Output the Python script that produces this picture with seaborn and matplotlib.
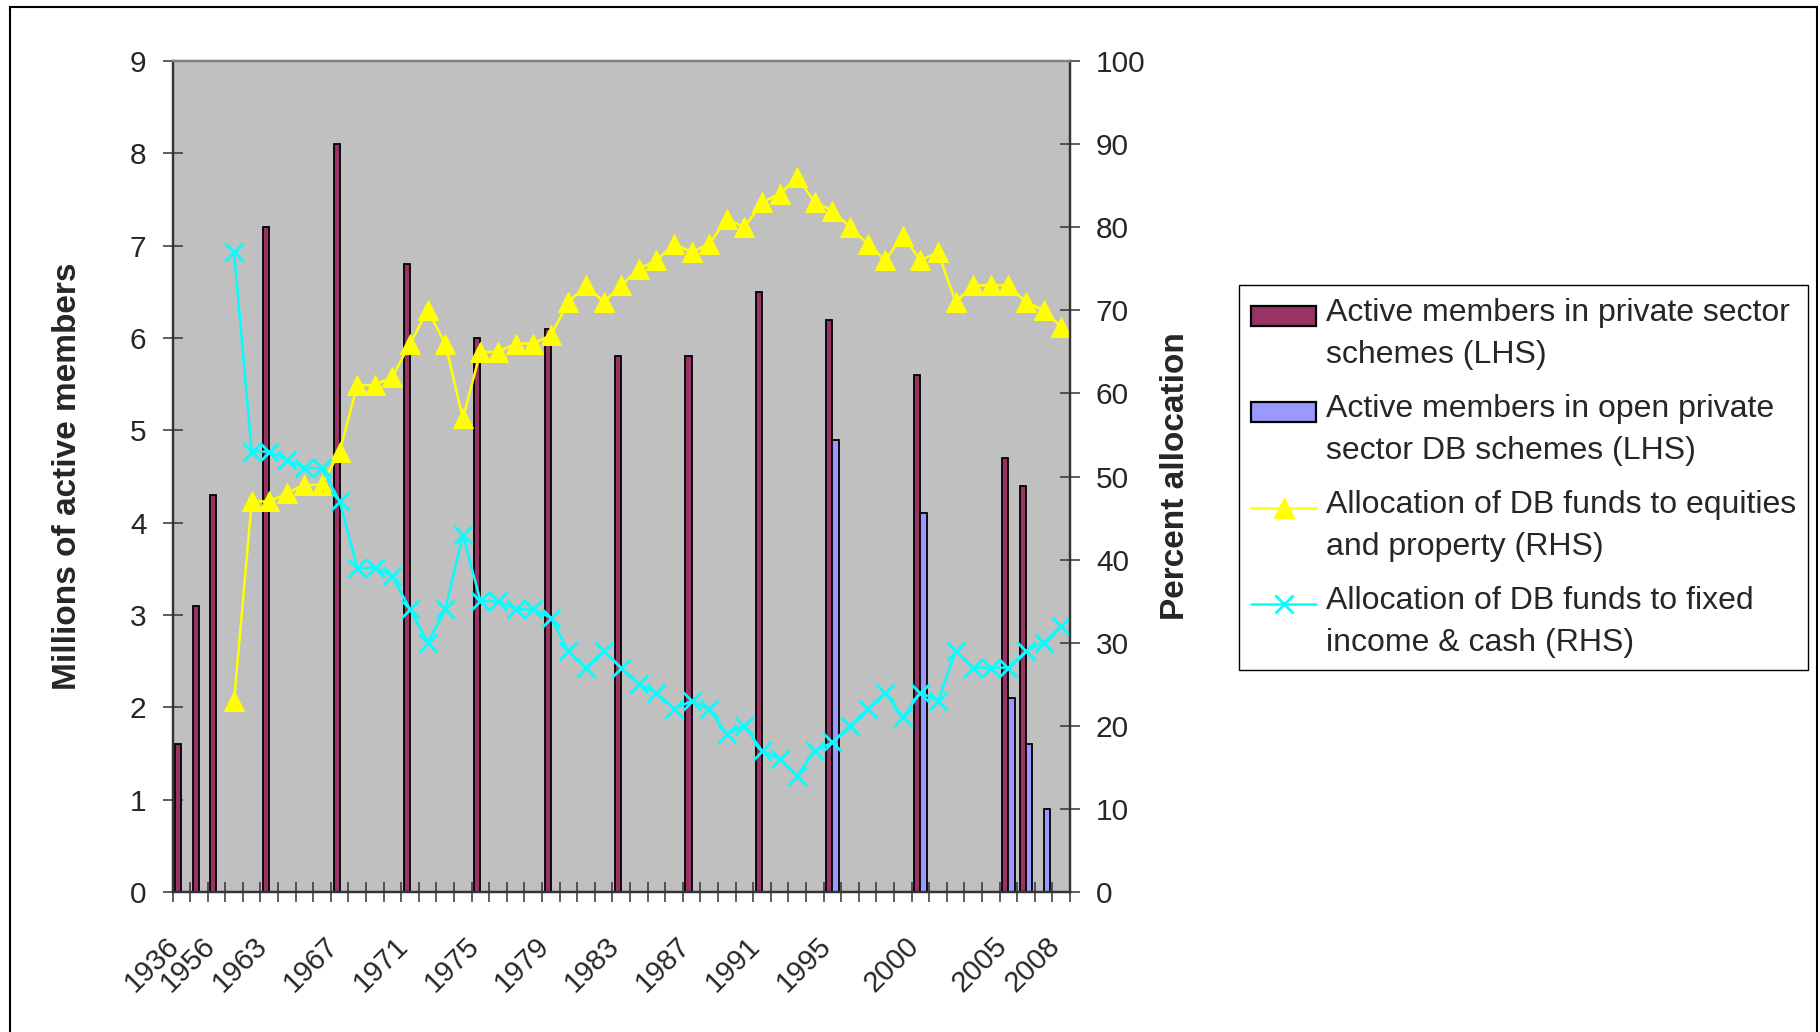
import numpy as np
import pandas as pd
import matplotlib
matplotlib.use("Agg")
import matplotlib.pyplot as plt
import seaborn as sns
from matplotlib.patches import Rectangle
from matplotlib.lines import Line2D
from matplotlib.legend_handler import HandlerPatch, HandlerLine2D

# Category axis: early survey years, then one slot per year 1961-2008
categories = [1936, 1953, 1956] + list(range(1961, 2009))
axis_labels = [1936, 1956, 1963, 1967, 1971, 1975, 1979, 1983, 1987,
               1991, 1995, 2000, 2005, 2008]

# Active members, millions (left axis)
private_years = [1936, 1953, 1956, 1963, 1967, 1971, 1975, 1979, 1983,
                 1987, 1991, 1995, 2000, 2005, 2006]
private_members = [1.6, 3.1, 4.3, 7.2, 8.1, 6.8, 6.0, 6.1, 5.8,
                   5.8, 6.5, 6.2, 5.6, 4.7, 4.4]
open_db_years = [1995, 2000, 2005, 2006, 2007]
open_db_members = [4.9, 4.1, 2.1, 1.6, 0.9]

# DB fund allocation, percent (right axis)
alloc_years = list(range(1961, 2009))
equities_property = [23, 47, 47, 48, 49, 49, 53, 61, 61, 62,
                     66, 70, 66, 57, 65, 65, 66, 66, 67, 71,
                     73, 71, 73, 75, 76, 78, 77, 78, 81, 80,
                     83, 84, 86, 83, 82, 80, 78, 76, 79, 76,
                     77, 71, 73, 73, 73, 71, 70, 68]
fixed_income_cash = [77, 53, 53, 52, 51, 51, 47, 39, 39, 38,
                     34, 30, 34, 43, 35, 35, 34, 34, 33, 29,
                     27, 29, 27, 25, 24, 22, 23, 22, 19, 20,
                     17, 16, 14, 17, 18, 20, 22, 24, 21, 24,
                     23, 29, 27, 27, 27, 29, 30, 32]

series_names = [
    "Active members in private sector\nschemes (LHS)",
    "Active members in open private\nsector DB schemes (LHS)",
    "Allocation of DB funds to equities\nand property (RHS)",
    "Allocation of DB funds to fixed\nincome & cash (RHS)",
]
bar_colors = ["#993366", "#9999FF"]
line_colors = ["#FFFF00", "#00FFFF"]

sns.set_style("ticks")
plt.rcParams["font.family"] = ["Liberation Sans", "DejaVu Sans"]

W, H = 1820, 1032
fig = plt.figure(figsize=(W / 100, H / 100), dpi=100)
left, right, top, bottom = 172.5, 1070, 61, 892
ax = fig.add_axes([left / W, 1 - bottom / H, (right - left) / W, (bottom - top) / H])
ax.set_facecolor("#C0C0C0")

bars = pd.DataFrame({
    "year": [str(y) for y in private_years + open_db_years],
    "members": private_members + open_db_members,
    "series": [series_names[0]] * len(private_years) + [series_names[1]] * len(open_db_years),
})
order = [str(c) for c in categories]
sns.barplot(data=bars, x="year", y="members", hue="series", order=order,
            hue_order=series_names[:2], palette=bar_colors, saturation=1,
            width=0.7, dodge=True, edgecolor="black", linewidth=1.3,
            errorbar=None, legend=False, ax=ax, zorder=2)

ax2 = ax.twinx()
pos = [categories.index(y) for y in alloc_years]
sns.lineplot(x=pos, y=equities_property, ax=ax2, color=line_colors[0],
             marker="^", markersize=14, markeredgecolor=line_colors[0],
             linewidth=1.8, legend=False, sort=False)
sns.lineplot(x=pos, y=fixed_income_cash, ax=ax2, color=line_colors[1],
             marker="x", markersize=13, markeredgewidth=2.0,
             markeredgecolor=line_colors[1], linewidth=1.8, legend=False, sort=False)

ax.set_xlim(-0.5, len(categories) - 0.5)
ax.set_ylim(0, 9)
ax2.set_ylim(0, 100)
ax.set_yticks(range(0, 10))
ax2.set_yticks(range(0, 101, 10))

# Tick marks sit between categories; year labels hang below their bars
ax.set_xticks([categories.index(y) - 0.34 for y in axis_labels],
              [str(y) for y in axis_labels])
ax.set_xticks(np.arange(-0.5, len(categories), 1.0), minor=True)
ax.tick_params(axis="x", which="major", length=0, pad=36, labelsize=21)
ax.tick_params(axis="x", which="minor", direction="inout", length=14.4,
               width=1.1, color="#333333")
for lbl in ax.get_xticklabels():
    lbl.set_rotation(45)
    lbl.set_rotation_mode("anchor")
    lbl.set_ha("right")
    lbl.set_va("center")

for a in (ax, ax2):
    a.tick_params(axis="y", direction="inout", length=14.4, width=1.1,
                  color="#333333", pad=11.5, labelsize=21.5)
    for side in ("left", "right", "bottom"):
        a.spines[side].set_visible(True)
        a.spines[side].set_color("#333333")
        a.spines[side].set_linewidth(1.6)
    a.spines["top"].set_visible(True)
    a.spines["top"].set_color("#808080")
    a.spines["top"].set_linewidth(1.6)
    a.grid(False)

ax.set_xlabel("")
ax.set_ylabel("Millions of active members", fontsize=24, fontweight="bold")
ax.yaxis.set_label_coords(-0.0997, 0.5)
ax2.set_ylabel("Percent allocation", fontsize=24, fontweight="bold")
ax2.yaxis.set_label_coords(1.1003, 0.5)


class RaisedPatch(HandlerPatch):
    def __init__(self, lift, **kw):
        super().__init__(**kw)
        self.lift = lift

    def create_artists(self, legend, orig_handle, xdescent, ydescent,
                       width, height, fontsize, trans):
        arts = super().create_artists(legend, orig_handle, xdescent, ydescent,
                                      width, height, fontsize, trans)
        for a in arts:
            a.set_y(a.get_y() + self.lift * fontsize)
        return arts


class RaisedLine(HandlerLine2D):
    def __init__(self, lift, **kw):
        super().__init__(**kw)
        self.lift = lift

    def create_artists(self, legend, orig_handle, xdescent, ydescent,
                       width, height, fontsize, trans):
        arts = super().create_artists(legend, orig_handle, xdescent, ydescent,
                                      width, height, fontsize, trans)
        for a in arts:
            a.set_ydata(np.asarray(a.get_ydata()) + self.lift * fontsize)
        return arts


lift = 0.58
h_private = Rectangle((0, 0), 1, 1, facecolor=bar_colors[0], edgecolor="black", linewidth=1.6)
h_open = Rectangle((0, 0), 1, 1, facecolor=bar_colors[1], edgecolor="black", linewidth=1.6)
h_eq = Line2D([], [], color=line_colors[0], marker="^", markersize=14,
              markeredgecolor=line_colors[0], linewidth=1.8)
h_fi = Line2D([], [], color=line_colors[1], marker="x", markersize=13,
              markeredgewidth=2.0, linewidth=1.8)
leg = fig.legend(
    [h_private, h_open, h_eq, h_fi], series_names,
    loc="upper left", bbox_to_anchor=(1238.5 / W, 1 - 285.5 / H),
    bbox_transform=fig.transFigure, borderaxespad=0, frameon=True,
    fancybox=False, edgecolor="black", framealpha=1, fontsize=23,
    handlelength=2.06, handleheight=0.6, handletextpad=0.3,
    borderpad=0.38, labelspacing=0.73, numpoints=1,
    handler_map={Rectangle: RaisedPatch(lift), Line2D: RaisedLine(lift)},
)
leg.get_frame().set_linewidth(1.0)
for t in leg.get_texts():
    t.set_linespacing(1.55)

# Outer chart border
fig.add_artist(Rectangle((9.7 / W, -0.002), (1817 - 9.7) / W, 1 - 6.7 / H + 0.002,
                         transform=fig.transFigure, fill=False,
                         edgecolor="black", linewidth=1.5))

fig.savefig("out.png", dpi=100, facecolor="white")
